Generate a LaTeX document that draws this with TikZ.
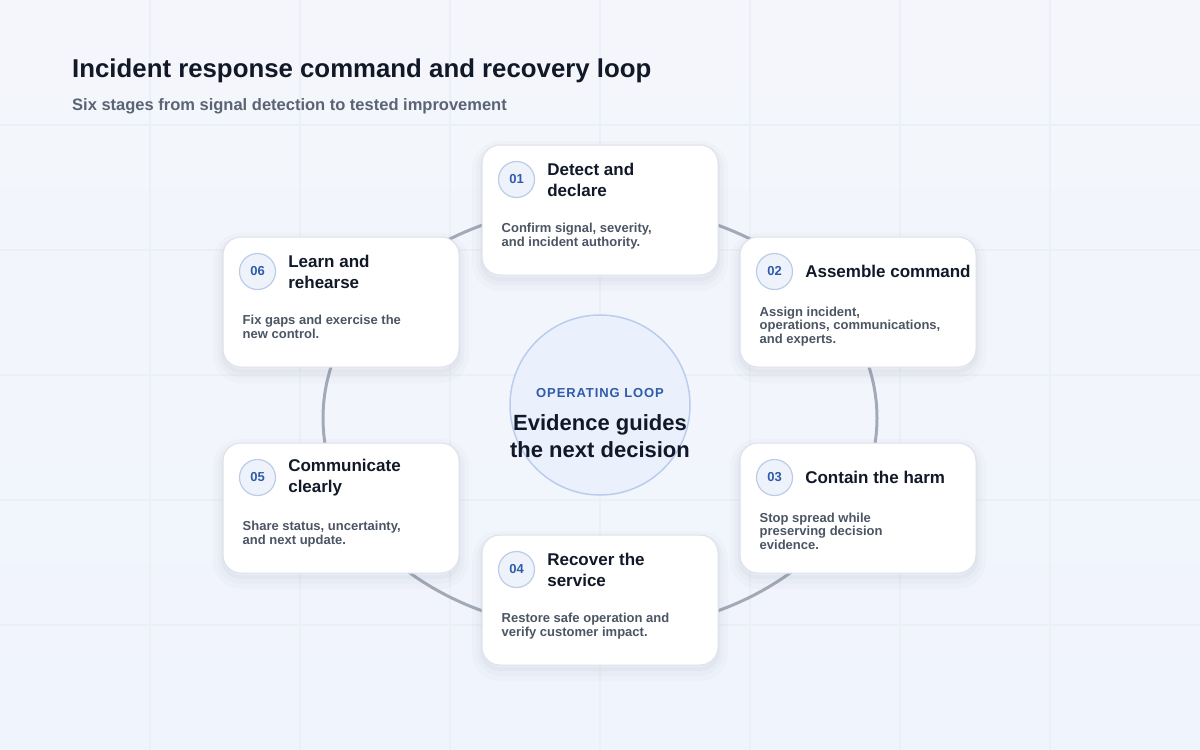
\documentclass[tikz,border=0pt]{standalone}
\usepackage{fontspec}
\setmainfont{Liberation Sans}
\usetikzlibrary{calc,positioning}

\definecolor{ink}{HTML}{111827}
\definecolor{muted}{HTML}{4B5563}
\definecolor{subgray}{HTML}{5B6474}
\definecolor{accent}{HTML}{2F5BAA}
\definecolor{cardline}{HTML}{DCE2EC}
\definecolor{ringgray}{HTML}{A3AAB7}
\definecolor{hubfill}{HTML}{EAF1FC}
\definecolor{hubline}{HTML}{BACDEE}
\definecolor{badgefill}{HTML}{EEF3FB}
\definecolor{badgeline}{HTML}{BDCCE6}
\definecolor{gridline}{HTML}{EBEFF6}
\definecolor{bgtop}{HTML}{F4F6FB}
\definecolor{bgbottom}{HTML}{F0F4FD}
\definecolor{shadowtone}{HTML}{3A4660}

\begin{document}
\begin{tikzpicture}[
  x=1pt,
  y=-1pt,
  stagecard/.style={
    draw=cardline,
    line width=1pt,
    fill=white,
    rounded corners=18pt,
    minimum width=236pt,
    minimum height=130pt,
    inner sep=0pt,
    preaction={draw=shadowtone,draw opacity=0.02,line width=20pt,
      transform canvas={yshift=-6pt}},
    preaction={draw=shadowtone,draw opacity=0.025,line width=11pt,
      transform canvas={yshift=-5pt}},
    preaction={draw=shadowtone,draw opacity=0.03,line width=4pt,
      transform canvas={yshift=-4pt}}
  },
  badge/.style={
    circle,
    draw=badgeline,
    line width=1.2pt,
    fill=badgefill,
    minimum size=36pt,
    inner sep=0pt,
    text=accent,
    font=\bfseries\fontsize{13}{15}\selectfont
  },
  stagetitle/.style={
    inner sep=0pt,
    align=left,
    text=ink,
    font=\bfseries\fontsize{17}{21}\selectfont
  },
  stagetext/.style={
    inner sep=0pt,
    align=left,
    anchor=north west,
    text=muted,
    font=\bfseries\fontsize{13}{13.5}\selectfont
  },
  loopring/.style={draw=ringgray,line width=3pt}
]

% Background and faint grid
\useasboundingbox (0,0) rectangle (1200,750);
\shade[top color=bgtop,bottom color=bgbottom] (0,0) rectangle (1200,750);
\foreach \gx in {150,300,...,1050}
  \draw[gridline,line width=1.2pt] (\gx,0) -- (\gx,750);
\foreach \gy in {125,250,...,625}
  \draw[gridline,line width=1.2pt] (0,\gy) -- (1200,\gy);

% Heading
\node[anchor=west,inner sep=0pt,text=ink,font=\bfseries\fontsize{25.8}{30}\selectfont]
  (Heading) at (72,70.5) {Incident response command and recovery loop};
\node[anchor=west,inner sep=0pt,text=subgray,font=\bfseries\fontsize{16.5}{20}\selectfont]
  (Subheading) at (72,106) {Six stages from signal detection to tested improvement};

% Ring behind the stages
\draw[loopring] (600,418) ellipse [x radius=277,y radius=213];

% Centre of the loop
\node[circle,minimum size=180pt,fill=hubfill,draw=hubline,line width=1.5pt]
  (Hub) at (600,405) {};
\node[inner sep=0pt,text=accent,
  font=\bfseries\fontsize{13}{15}\selectfont\addfontfeature{LetterSpace=7}]
  (HubTag) at ([shift={(0,-12)}]Hub.center) {OPERATING LOOP};
\node[inner sep=0pt,align=center,text=ink,font=\bfseries\fontsize{22}{27}\selectfont]
  (HubText) at ([shift={(0,31)}]Hub.center) {Evidence guides\\the next decision};

% Stage cards
\node[stagecard] (Detect)      at (600,210) {};
\node[stagecard] (Assemble)    at (858,302) {};
\node[stagecard] (Contain)     at (858,508) {};
\node[stagecard] (Recover)     at (600,600) {};
\node[stagecard] (Communicate) at (341,508) {};
\node[stagecard] (Learn)       at (341,302) {};

% 01
\node[badge] (NumDetect) at ([shift={(35,35)}]Detect.north west) {01};
\node[stagetitle,right=12pt of NumDetect] (TitleDetect) {Detect and\\declare};
\node[stagetext] (TextDetect) at ([shift={(20,78.5)}]Detect.north west)
  {Confirm signal, severity,\\and incident authority.};

% 02
\node[badge] (NumAssemble) at ([shift={(35,35)}]Assemble.north west) {02};
\node[stagetitle,right=12pt of NumAssemble] (TitleAssemble) {Assemble command};
\node[stagetext] (TextAssemble) at ([shift={(20,70)}]Assemble.north west)
  {Assign incident,\\operations, communications,\\and experts.};

% 03
\node[badge] (NumContain) at ([shift={(35,35)}]Contain.north west) {03};
\node[stagetitle,right=12pt of NumContain] (TitleContain) {Contain the harm};
\node[stagetext] (TextContain) at ([shift={(20,70)}]Contain.north west)
  {Stop spread while\\preserving decision\\evidence.};

% 04
\node[badge] (NumRecover) at ([shift={(35,35)}]Recover.north west) {04};
\node[stagetitle,right=12pt of NumRecover] (TitleRecover) {Recover the\\service};
\node[stagetext] (TextRecover) at ([shift={(20,78.5)}]Recover.north west)
  {Restore safe operation and\\verify customer impact.};

% 05
\node[badge] (NumCommunicate) at ([shift={(35,35)}]Communicate.north west) {05};
\node[stagetitle,right=12pt of NumCommunicate] (TitleCommunicate) {Communicate\\clearly};
\node[stagetext] (TextCommunicate) at ([shift={(20,78.5)}]Communicate.north west)
  {Share status, uncertainty,\\and next update.};

% 06
\node[badge] (NumLearn) at ([shift={(35,35)}]Learn.north west) {06};
\node[stagetitle,right=12pt of NumLearn] (TitleLearn) {Learn and\\rehearse};
\node[stagetext] (TextLearn) at ([shift={(20,78.5)}]Learn.north west)
  {Fix gaps and exercise the\\new control.};
\end{tikzpicture}
\end{document}
